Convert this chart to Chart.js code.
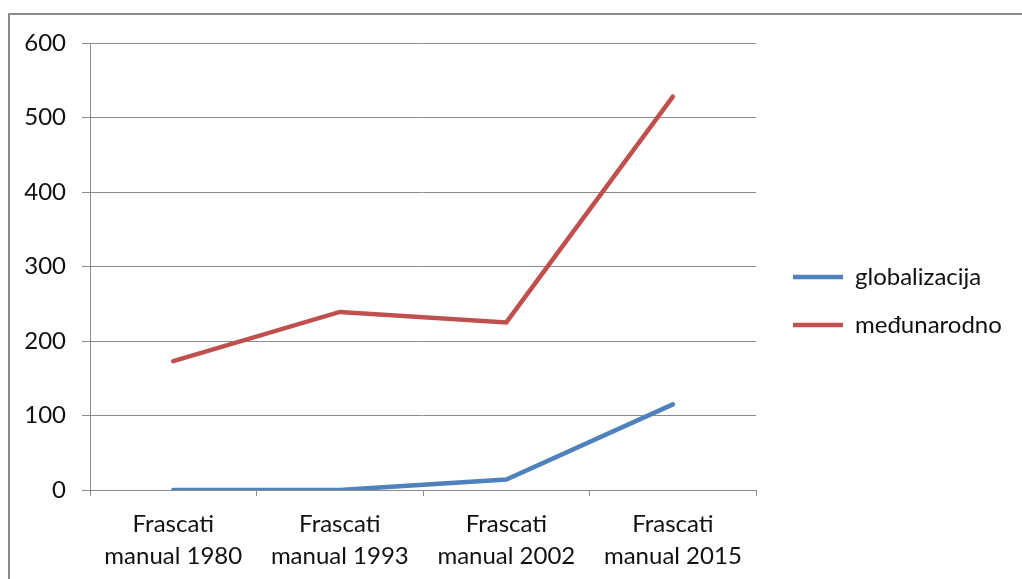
<!DOCTYPE html>
<html>
<head>
<meta charset="utf-8">
<script src="https://cdn.jsdelivr.net/npm/chart.js@4"></script>
<style>
  html, body { margin: 0; padding: 0; background: #fff; overflow: hidden; }
  #frame { position: absolute; left: 8px; top: 13px; width: 1100px; height: 700px; border: 2px solid #8a8a8a; }
  #chart { position: absolute; left: 0; top: 0; }
</style>
</head>
<body>
<div id="frame"></div>
<canvas id="chart" width="1022" height="579"></canvas>
<script>
// Data
const categories = [['Frascati', 'manual 1980'], ['Frascati', 'manual 1993'], ['Frascati', 'manual 2002'], ['Frascati', 'manual 2015']];
const globalizacija = [0, 0, 14, 115];
const medunarodno = [173, 239, 225, 528];
const yTicks = [0, 100, 200, 300, 400, 500, 600];

const gridColor = '#8c8c8c';
const font = { family: 'Lato', size: 24 };

// nudge legend to where it sits in the original
const legendPos = {
    id: 'legendPos',
    afterLayout(chart) {
        const lg = chart.legend;
        if (!lg) return;
        const w = lg.right - lg.left;
        lg.left = 769;
        lg.right = 769 + w;
        lg.top -= 10;
        lg.bottom -= 10;
    }
};

document.addEventListener('DOMContentLoaded', function () {
    const ctx = document.getElementById('chart').getContext('2d');
    new Chart(ctx, {
        type: 'line',
        data: {
            labels: categories,
            datasets: [{
                label: 'globalizacija',
                data: globalizacija,
                borderColor: '#4f81bd',
                backgroundColor: '#4f81bd',
                borderWidth: 4.5,
                pointRadius: 0,
                borderCapStyle: 'round',
                tension: 0,
            }, {
                label: 'međunarodno',
                data: medunarodno,
                borderColor: '#c0504d',
                backgroundColor: '#c0504d',
                borderWidth: 4.5,
                pointRadius: 0,
                borderCapStyle: 'round',
                tension: 0,
            }],
        },
        options: {
            responsive: false,
            animation: false,
            devicePixelRatio: 1,
            layout: { padding: { top: 43, left: 0, right: 23, bottom: 0 } },
            plugins: {
                tooltip: { enabled: false },
                legend: {
                    position: 'right',
                    labels: {
                        usePointStyle: true,
                        pointStyle: 'line',
                        pointStyleWidth: 50,
                        padding: 24,
                        color: '#111',
                        font: font,
                    },
                },
            },
            scales: {
                x: {
                    offset: true,
                    grid: { offset: true, drawOnChartArea: false, color: gridColor, tickLength: 6 },
                    border: { color: gridColor },
                    ticks: { color: '#111', font: Object.assign({ lineHeight: 1.3 }, font), padding: 13, maxRotation: 0 },
                    afterFit(scale) { scale.height = 89; },
                },
                y: {
                    min: 0,
                    max: 600,
                    afterBuildTicks(scale) { scale.ticks = yTicks.map(v => ({ value: v })); },
                    grid: { color: gridColor, tickLength: 8 },
                    border: { color: gridColor },
                    ticks: { color: '#111', font: font, padding: 16 },
                    afterFit(scale) { scale.width = 90; },
                },
            },
        },
        plugins: [legendPos],
    });
});
</script>
</body>
</html>
